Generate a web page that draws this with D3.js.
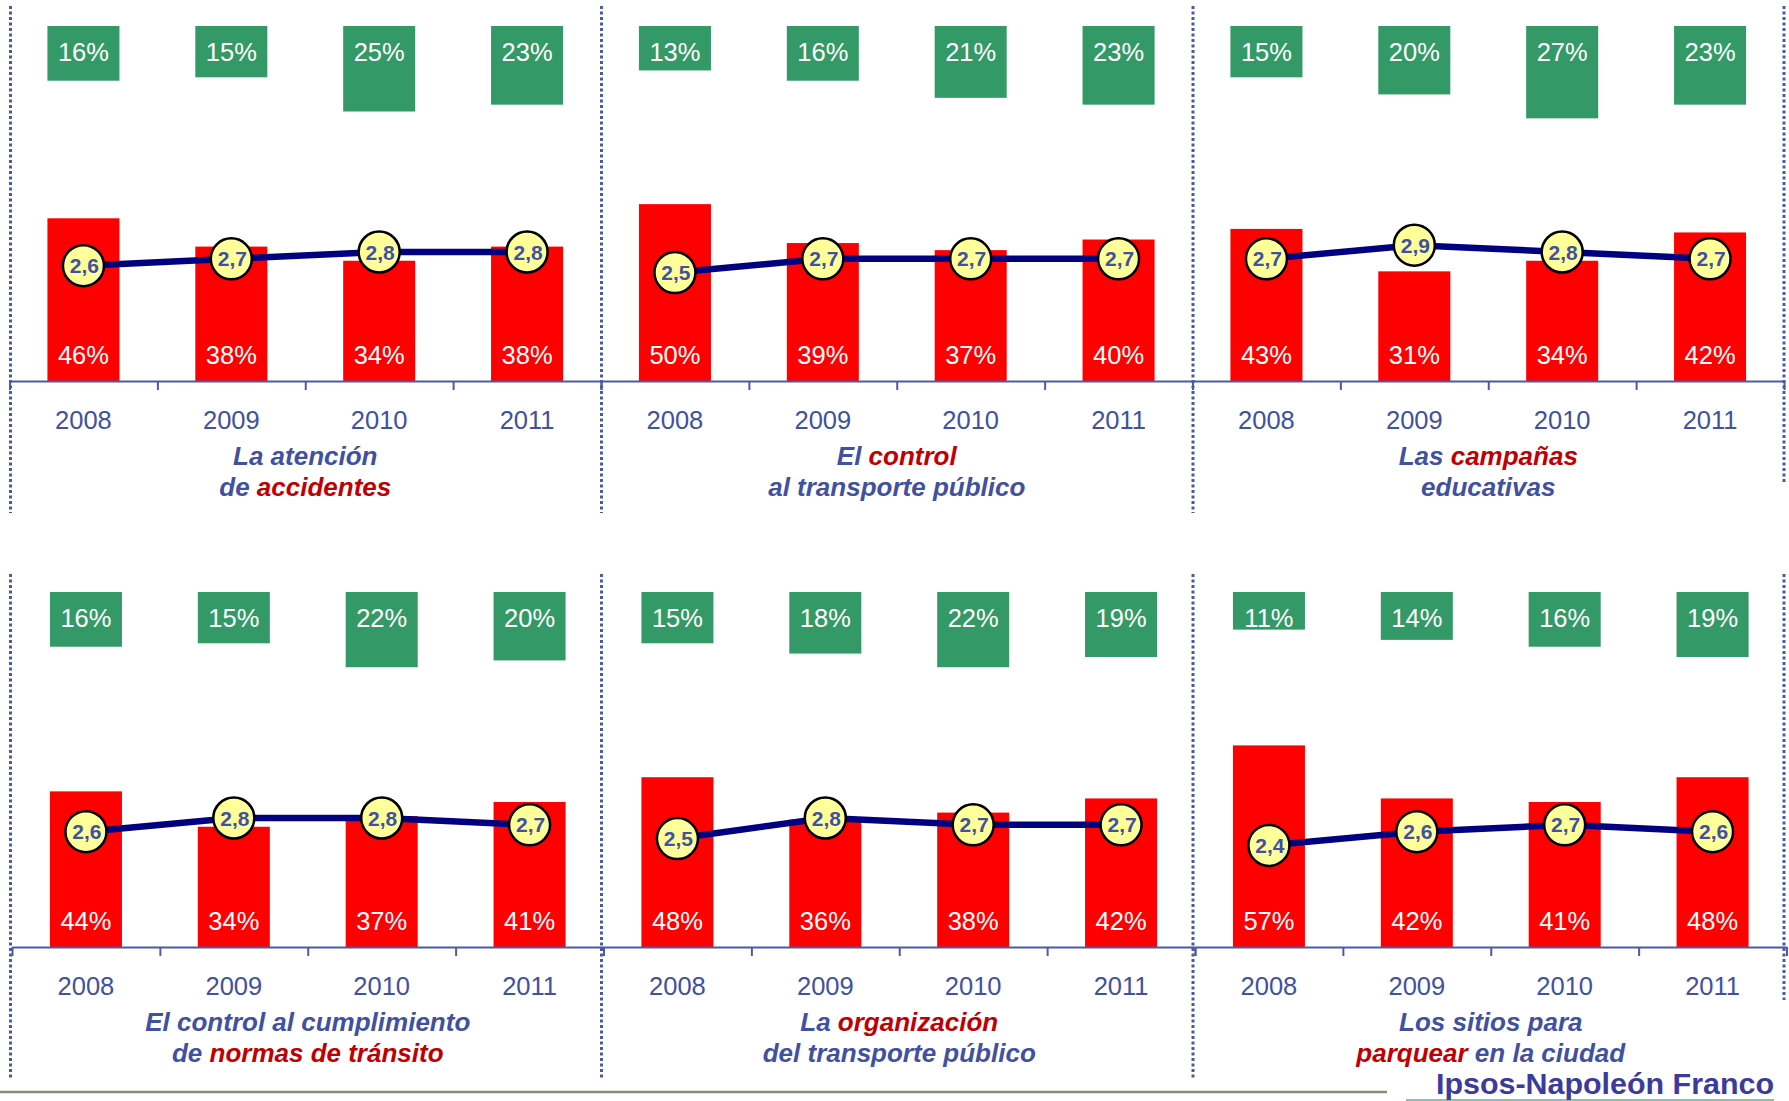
<!DOCTYPE html>
<html>
<head>
<meta charset="utf-8">
<script src="https://cdn.jsdelivr.net/npm/d3@7"></script>
<style>
  html, body { margin: 0; padding: 0; background: #fff; }
  svg { display: block; font-family: "Liberation Sans", Arial, sans-serif; }
</style>
</head>
<body>
<svg id="chart" width="1789" height="1101"></svg>
<script>
// ---- Data ----
const years = ["2008", "2009", "2010", "2011"];

const titles = [
  [[["La atención", "b"]], [["de ", "b"], ["accidentes", "r"]]],
  [[["El ", "b"], ["control", "r"]], [["al transporte público", "b"]]],
  [[["Las ", "b"], ["campañas", "r"]], [["educativas", "b"]]],
  [[["El control al cumplimiento", "b"]], [["de ", "b"], ["normas de tránsito", "r"]]],
  [[["La ", "b"], ["organización", "r"]], [["del transporte público", "b"]]],
  [[["Los sitios para", "b"]], [["parquear", "r"], [" en la ciudad", "b"]]]
];

const greenValues = [
  [16, 15, 25, 23],
  [13, 16, 21, 23],
  [15, 20, 27, 23],
  [16, 15, 22, 20],
  [15, 18, 22, 19],
  [11, 14, 16, 19]
];

const redValues = [
  [46, 38, 34, 38],
  [50, 39, 37, 40],
  [43, 31, 34, 42],
  [44, 34, 37, 41],
  [48, 36, 38, 42],
  [57, 42, 41, 48]
];

const meanValues = [
  [2.6, 2.7, 2.8, 2.8],
  [2.5, 2.7, 2.7, 2.7],
  [2.7, 2.9, 2.8, 2.7],
  [2.6, 2.8, 2.8, 2.7],
  [2.5, 2.8, 2.7, 2.7],
  [2.4, 2.6, 2.7, 2.6]
];

// ---- Styles ----
const BLUE = "#3F51A0";
const DARKRED = "#C00000";
const GREEN = "#339966";
const RED = "#FF0000";
const AXIS = "#4A5BA6";

const svg = d3.select("#chart");

const panelW = 591.5;
const rowH = 566;
const fmt = v => String(v).replace(".", ",");

// dotted dividers
const dividers = [
  {x: 10.5, y1: 6, y2: 513}, {x: 601.5, y1: 6, y2: 513}, {x: 1193, y1: 6, y2: 513}, {x: 1784, y1: 6, y2: 482},
  {x: 10.5, y1: 574, y2: 1078}, {x: 601.5, y1: 574, y2: 1078}, {x: 1193, y1: 574, y2: 1078}, {x: 1784, y1: 574, y2: 1000}
];
svg.selectAll("line.div").data(dividers).enter().append("line")
  .attr("x1", d => d.x).attr("x2", d => d.x)
  .attr("y1", d => d.y1).attr("y2", d => d.y2)
  .attr("stroke", AXIS).attr("stroke-width", 3)
  .attr("stroke-dasharray", "3,2.5");

for (let p = 0; p < 6; p++) {
  const r = Math.floor(p / 3), c = p % 3;
  const x0 = 9.5 + c * panelW + (r ? 2.5 : 0);
  const axisY = 381 + r * rowH;
  const greenTop = 26 + r * rowH;
  const g = svg.append("g");

  const x = d3.scaleBand().domain(years).range([x0, x0 + panelW])
    .paddingInner(0.513).paddingOuter(0.2565);
  const xTicks = d3.scaleLinear().domain([0, 4]).range([x0, x0 + panelW]);
  const yRed = d3.scaleLinear().domain([0, 100]).range([axisY, axisY - 353.7]);
  const hGreen = d3.scaleLinear().domain([0, 100]).range([0, 342]);
  const yMean = d3.scaleLinear().domain([2, 3]).range([axisY - 74.2, axisY - 142.7]);

  const rows = years.map((yr, i) => ({
    yr, green: greenValues[p][i], red: redValues[p][i], mean: meanValues[p][i]
  }));

  // green bars (hanging from top)
  g.selectAll("rect.g").data(rows).enter().append("rect")
    .attr("x", d => x(d.yr)).attr("width", x.bandwidth())
    .attr("y", greenTop).attr("height", d => hGreen(d.green))
    .attr("fill", GREEN);
  g.selectAll("text.g").data(rows).enter().append("text")
    .attr("x", d => x(d.yr) + x.bandwidth() / 2)
    .attr("y", greenTop + 26.5).attr("dy", "0.35em")
    .attr("text-anchor", "middle").attr("fill", "#fff")
    .attr("font-size", 25.5).text(d => d.green + "%");

  // red bars
  g.selectAll("rect.r").data(rows).enter().append("rect")
    .attr("x", d => x(d.yr)).attr("width", x.bandwidth())
    .attr("y", d => yRed(d.red)).attr("height", d => axisY - yRed(d.red))
    .attr("fill", RED);
  g.selectAll("text.r").data(rows).enter().append("text")
    .attr("x", d => x(d.yr) + x.bandwidth() / 2)
    .attr("y", axisY - 26).attr("dy", "0.35em")
    .attr("text-anchor", "middle").attr("fill", "#fff")
    .attr("font-size", 25.5).text(d => d.red + "%");

  // axis with ticks at band boundaries
  const ax = g.append("g").attr("transform", `translate(0,${axisY})`)
    .call(d3.axisBottom(xTicks).tickValues([0, 1, 2, 3, 4]).tickFormat("")
      .tickSizeInner(9).tickSizeOuter(0));
  ax.selectAll("path, line").attr("stroke", AXIS).attr("stroke-width", 2);

  // year labels
  const yl = g.append("g").attr("transform", `translate(0,${axisY})`)
    .call(d3.axisBottom(x).tickSize(0).tickPadding(30));
  yl.select(".domain").remove();
  yl.selectAll("text").attr("font-size", 25.5).attr("fill", BLUE)
    .attr("font-family", "Liberation Sans, Arial, sans-serif");

  // mean line
  const line = d3.line().x(d => x(d.yr) + x.bandwidth() / 2).y(d => yMean(d.mean));
  g.append("path").datum(rows).attr("d", line)
    .attr("fill", "none").attr("stroke", "#000080").attr("stroke-width", 6.5);
  g.selectAll("circle").data(rows).enter().append("circle")
    .attr("cx", d => x(d.yr) + x.bandwidth() / 2).attr("cy", d => yMean(d.mean))
    .attr("r", 20.5).attr("fill", "#FFFF99").attr("stroke", "#000").attr("stroke-width", 2.5);
  g.selectAll("text.m").data(rows).enter().append("text")
    .attr("x", d => x(d.yr) + x.bandwidth() / 2 + 1).attr("y", d => yMean(d.mean))
    .attr("dy", "0.36em").attr("text-anchor", "middle")
    .attr("font-size", 21).attr("font-weight", "bold").attr("fill", BLUE)
    .text(d => fmt(d.mean));

  // title
  const cx = x0 + panelW / 2;
  titles[p].forEach((ln, li) => {
    const t = g.append("text").attr("x", cx).attr("y", axisY + 84 + li * 31)
      .attr("text-anchor", "middle").attr("font-size", 26)
      .attr("font-weight", "bold").attr("font-style", "italic");
    ln.forEach(([s, col]) => {
      t.append("tspan").attr("fill", col === "r" ? DARKRED : BLUE).text(s);
    });
  });
}

// footer
svg.append("line").attr("x1", 0).attr("x2", 1387).attr("y1", 1092).attr("y2", 1092)
  .attr("stroke", "#8A8A78").attr("stroke-width", 2.5);
svg.append("line").attr("x1", 1406).attr("x2", 1774).attr("y1", 1100).attr("y2", 1100)
  .attr("stroke", "#7FC4B8").attr("stroke-width", 2);
svg.append("text").attr("x", 1436).attr("y", 1094)
  .attr("font-size", 30).attr("font-weight", "bold").attr("fill", "#3C3A9B")
  .attr("textLength", 338).attr("lengthAdjust", "spacingAndGlyphs")
  .text("Ipsos-Napoleón Franco");
</script>
</body>
</html>
